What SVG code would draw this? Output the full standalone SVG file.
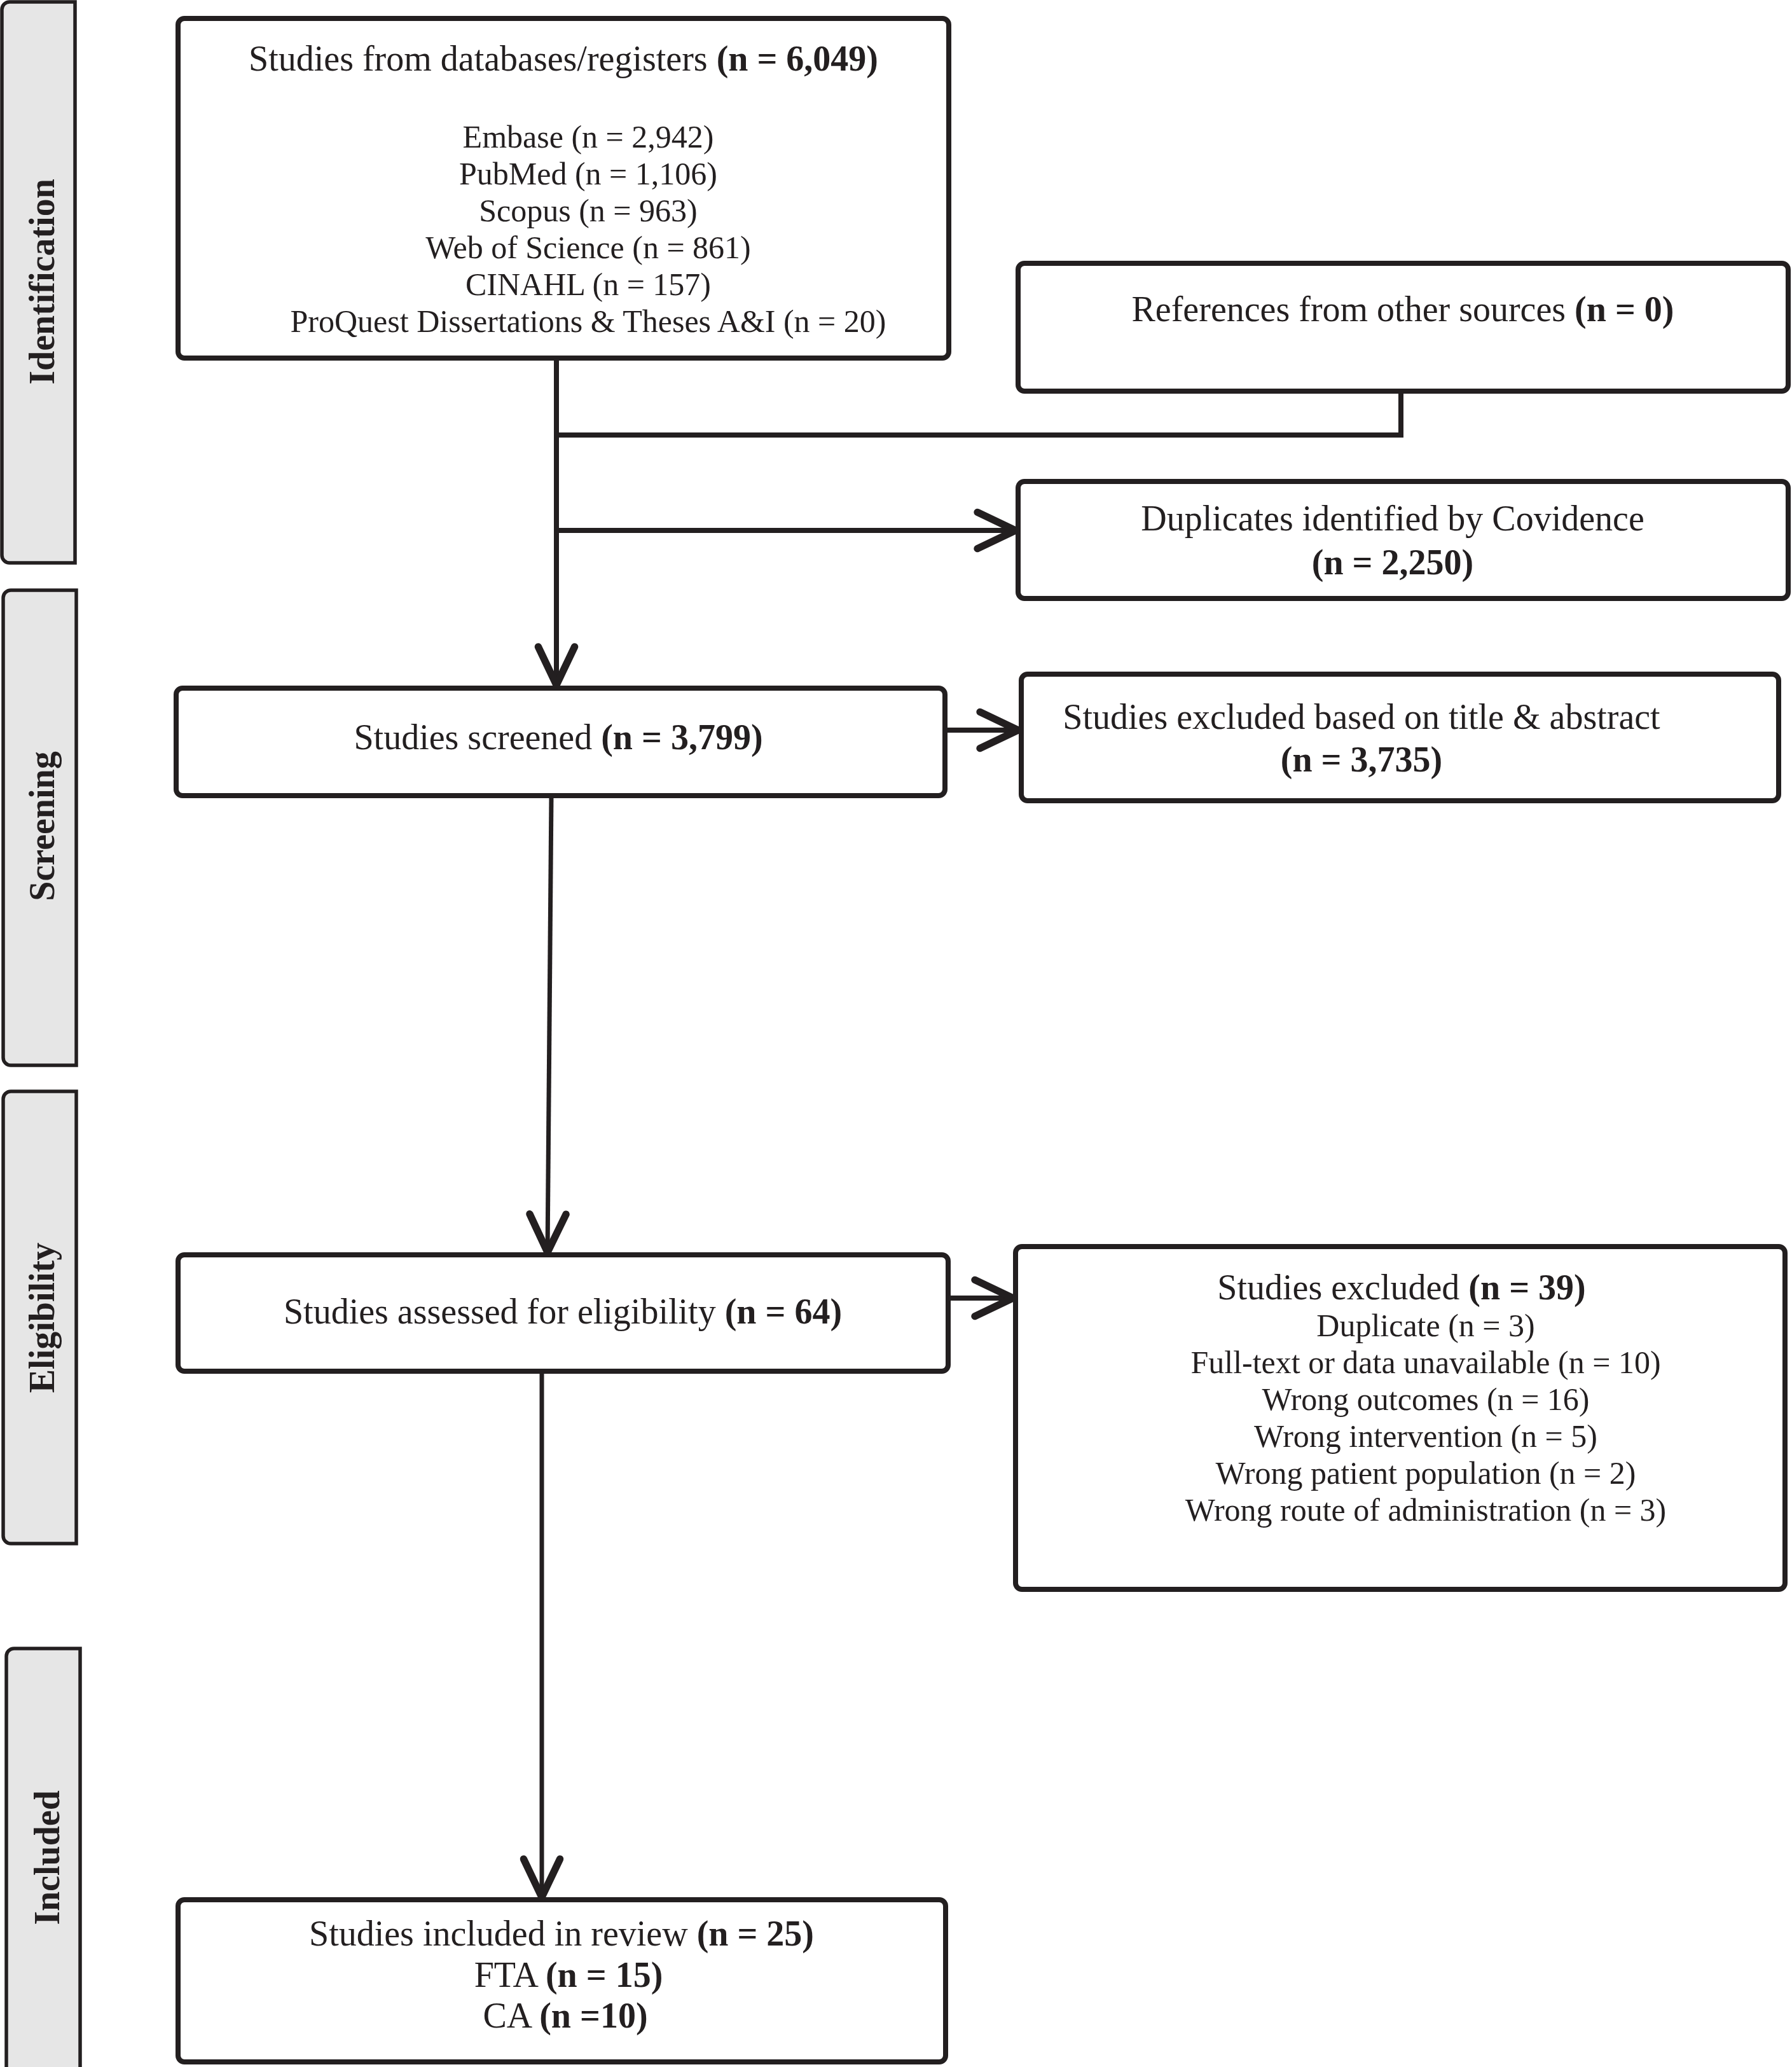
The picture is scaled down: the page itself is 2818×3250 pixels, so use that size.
<svg xmlns="http://www.w3.org/2000/svg" width="2818" height="3250" viewBox="0 0 2818 3250">
<style>
  .band { fill: #e6e6e6; stroke: #231f20; stroke-width: 5.5; }
  .box { fill: #ffffff; stroke: #231f20; stroke-width: 8; }
  .lbl { font-family: "Liberation Serif", "Times New Roman", serif; font-weight: bold; font-size: 56px; fill: #231f20; text-anchor: middle; }
  .t { font-family: "Liberation Serif", "Times New Roman", serif; font-size: 56px; fill: #231f20; text-anchor: middle; }
  .s { font-family: "Liberation Serif", "Times New Roman", serif; font-size: 50px; fill: #231f20; text-anchor: middle; }
  .b { font-weight: bold; }
  .con { fill: none; stroke: #231f20; stroke-width: 8; }
  .thin { stroke-width: 7; }
</style>
<defs>
  <marker id="chev" markerUnits="userSpaceOnUse" markerWidth="100" markerHeight="100" viewBox="-60 -30 70 60" refX="0" refY="0" orient="auto" overflow="visible">
    <path d="M -42 -20 L 0 0 L -42 20" fill="none" stroke="#231f20" stroke-width="8" stroke-linecap="round" stroke-linejoin="miter"/>
  </marker>
</defs>
<rect width="2818" height="3250" fill="#ffffff"/>

<!-- phase bands -->
<g id="band-identification">
  <path class="band" d="M 15 3 H 118 V 885 H 15 A 12 12 0 0 1 3 873 V 15 A 12 12 0 0 1 15 3 Z"/>
  <text class="lbl" transform="translate(85,443) rotate(-90)">Identification</text>
</g>
<g id="band-screening">
  <path class="band" d="M 17 928 H 120 V 1675 H 17 A 12 12 0 0 1 5 1663 V 940 A 12 12 0 0 1 17 928 Z"/>
  <text class="lbl" transform="translate(85,1299) rotate(-90)">Screening</text>
</g>
<g id="band-eligibility">
  <path class="band" d="M 17 1716 H 120 V 2427 H 17 A 12 12 0 0 1 5 2415 V 1728 A 12 12 0 0 1 17 1716 Z"/>
  <text class="lbl" transform="translate(85,2072) rotate(-90)">Eligibility</text>
</g>
<g id="band-included">
  <path class="band" d="M 22 2592 H 126 V 3270 H 10 V 2604 A 12 12 0 0 1 22 2592 Z"/>
  <text class="lbl" transform="translate(93,2921) rotate(-90)">Included</text>
</g>

<!-- connectors -->
<g id="connectors">
  <line class="con" x1="875" y1="563" x2="875" y2="1077" marker-end="url(#chev)"/>
  <polyline class="con" points="2203,619 2203,684 875,684"/>
  <line class="con" x1="875" y1="834" x2="1597" y2="834" marker-end="url(#chev)"/>
  <line class="con" x1="1486" y1="1148" x2="1601" y2="1148" marker-end="url(#chev)"/>
  <line class="con thin" x1="867" y1="1251" x2="861" y2="1969" marker-end="url(#chev)"/>
  <line class="con" x1="1491" y1="2041" x2="1593" y2="2041" marker-end="url(#chev)"/>
  <line class="con thin" x1="852" y1="2156" x2="852" y2="2983" marker-end="url(#chev)"/>
</g>

<!-- nodes -->
<g id="node-databases">
  <rect class="box" x="280" y="29" width="1212" height="534" rx="10"/>
  <text class="t" x="886" y="111">Studies from databases/registers <tspan class="b">(n = 6,049)</tspan></text>
  <text class="s" x="925" y="232">Embase (n = 2,942)</text>
  <text class="s" x="925" y="290">PubMed (n = 1,106)</text>
  <text class="s" x="925" y="348">Scopus (n = 963)</text>
  <text class="s" x="925" y="406">Web of Science (n = 861)</text>
  <text class="s" x="925" y="464">CINAHL (n = 157)</text>
  <text class="s" x="925" y="522">ProQuest Dissertations &amp; Theses A&amp;I (n = 20)</text>
</g>
<g id="node-other-sources">
  <rect class="box" x="1601" y="414" width="1211" height="201" rx="10"/>
  <text class="t" x="2206" y="505">References from other sources <tspan class="b">(n = 0)</tspan></text>
</g>
<g id="node-duplicates">
  <rect class="box" x="1601" y="757" width="1211" height="184" rx="10"/>
  <text class="t" x="2190" y="834">Duplicates identified by Covidence</text>
  <text class="t b" x="2190" y="903">(n = 2,250)</text>
</g>
<g id="node-screened">
  <rect class="box" x="277" y="1082" width="1209" height="169" rx="10"/>
  <text class="t" x="878" y="1178">Studies screened <tspan class="b">(n = 3,799)</tspan></text>
</g>
<g id="node-excluded-ta">
  <rect class="box" x="1606" y="1060" width="1191" height="199" rx="10"/>
  <text class="t" x="2141" y="1146">Studies excluded based on title &amp; abstract</text>
  <text class="t b" x="2141" y="1213">(n = 3,735)</text>
</g>
<g id="node-eligibility">
  <rect class="box" x="280" y="1973" width="1211" height="183" rx="10"/>
  <text class="t" x="885" y="2081">Studies assessed for eligibility <tspan class="b">(n = 64)</tspan></text>
</g>
<g id="node-excluded-ft">
  <rect class="box" x="1597" y="1960" width="1210" height="539" rx="10"/>
  <text class="t" x="2204" y="2043">Studies excluded <tspan class="b">(n = 39)</tspan></text>
  <text class="s" x="2242" y="2101">Duplicate (n = 3)</text>
  <text class="s" x="2242" y="2159">Full-text or data unavailable (n = 10)</text>
  <text class="s" x="2242" y="2217">Wrong outcomes (n = 16)</text>
  <text class="s" x="2242" y="2275">Wrong intervention (n = 5)</text>
  <text class="s" x="2242" y="2333">Wrong patient population (n = 2)</text>
  <text class="s" x="2242" y="2391">Wrong route of administration (n = 3)</text>
</g>
<g id="node-included">
  <rect class="box" x="280" y="2987" width="1207" height="255" rx="10"/>
  <text class="t" x="883" y="3059">Studies included in review <tspan class="b">(n = 25)</tspan></text>
  <text class="t" x="894" y="3124">FTA <tspan class="b">(n = 15)</tspan></text>
  <text class="t" x="889" y="3188">CA <tspan class="b">(n =10)</tspan></text>
</g>
</svg>
